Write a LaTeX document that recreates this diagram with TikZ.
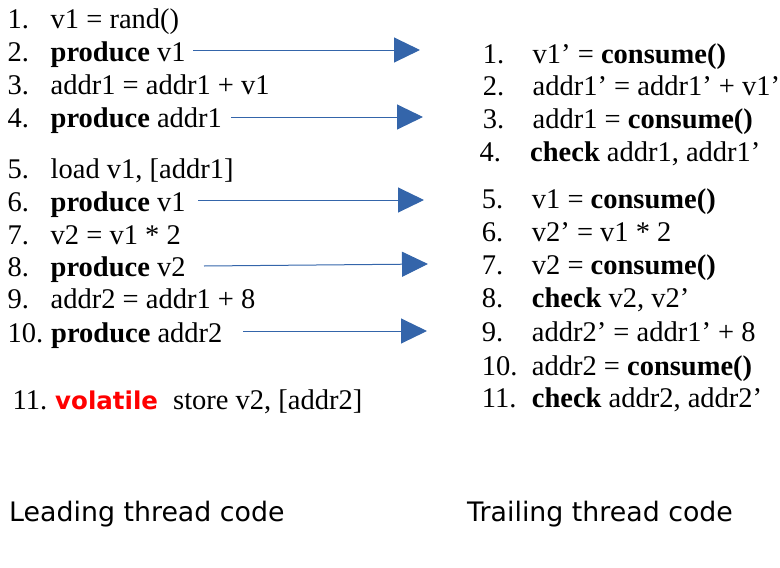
\documentclass[tikz,border=0pt]{standalone}
\usepackage{fontspec}
\setmainfont{Liberation Serif}
\newfontfamily\capfont{DejaVu Sans}
\usetikzlibrary{arrows.meta}
\definecolor{arrblue}{RGB}{52,101,170}
\definecolor{volred}{RGB}{255,0,0}
\tikzset{
  code/.style={anchor=base west, inner sep=0pt, font=\fontsize{28.5}{29}\selectfont},
  captext/.style={anchor=base west, inner sep=0pt, font=\capfont\fontsize{26.8}{27}\selectfont},
  voltext/.style={anchor=base west, inner sep=0pt, font=\capfont\bfseries\fontsize{24.5}{25}\selectfont, text=volred},
  flow/.style={draw=arrblue, line width=1pt, -{Triangle[length=26pt,width=25pt]}, arrblue}
}
\begin{document}
\begin{tikzpicture}[x=1pt,y=-1pt]
\useasboundingbox (0,0) rectangle (780,568);
% Leading thread
\node[code] (ln1) at (7.5,28.3) {1.};
\node[code] (l1) at (50.5,28.3) {v1 = rand()};
\node[code] (ln2) at (7.5,61.7) {2.};
\node[code] (l2) at (50.5,61.7) {\textbf{produce} v1};
\node[code] (ln3) at (7.5,94.5) {3.};
\node[code] (l3) at (50.5,94.5) {addr1 = addr1 + v1};
\node[code] (ln4) at (7.5,127.7) {4.};
\node[code] (l4) at (50.5,127.7) {\textbf{produce} addr1};
\node[code] (ln5) at (7.5,178) {5.};
\node[code] (l5) at (50.5,178) {load v1, [addr1]};
\node[code] (ln6) at (7.5,211.3) {6.};
\node[code] (l6) at (50.5,211.3) {\textbf{produce} v1};
\node[code] (ln7) at (7.5,244) {7.};
\node[code] (l7) at (50.5,244) {v2 = v1 * 2};
\node[code] (ln8) at (7.5,276.7) {8.};
\node[code] (l8) at (50.5,276.7) {\textbf{produce} v2};
\node[code] (ln9) at (7.5,308.7) {9.};
\node[code] (l9) at (50.5,308.7) {addr2 = addr1 + 8};
\node[code] (ln10) at (7.5,342.7) {10.};
\node[code] (l10) at (51,342.7) {\textbf{produce} addr2};
\node[code] (ln11) at (12.5,409.7) {11.};
\node[voltext] (l11v) at (55,409.7) {volatile};
\node[code] (l11) at (173,409.7) {store v2, [addr2]};
% Trailing thread
\node[code] (rn1) at (482.7,63.3) {1.};
\node[code] (r1) at (532.5,63.3) {v1’ = \textbf{consume()}};
\node[code] (rn2) at (482.7,95.5) {2.};
\node[code] (r2) at (532.5,95.5) {addr1’ = addr1’ + v1’};
\node[code] (rn3) at (482.7,128.3) {3.};
\node[code] (r3) at (532.5,128.3) {addr1 = \textbf{consume()}};
\node[code] (rn4) at (479.3,161.7) {4.};
\node[code] (r4) at (530,161.7) {\textbf{check} addr1, addr1’};
\node[code] (rn5) at (481.7,208.3) {5.};
\node[code] (r5) at (531.7,208.3) {v1 = \textbf{consume()}};
\node[code] (rn6) at (481.7,241.7) {6.};
\node[code] (r6) at (531.7,241.7) {v2’ = v1 * 2};
\node[code] (rn7) at (481.7,274) {7.};
\node[code] (r7) at (531.7,274) {v2 = \textbf{consume()}};
\node[code] (rn8) at (481.7,307) {8.};
\node[code] (r8) at (531.7,307) {\textbf{check} v2, v2’};
\node[code] (rn9) at (481.7,341) {9.};
\node[code] (r9) at (531.7,341) {addr2’ = addr1’ + 8};
\node[code] (rn10) at (481.7,375) {10.};
\node[code] (r10) at (531.7,375) {addr2 = \textbf{consume()}};
\node[code] (rn11) at (481.7,407.5) {11.};
\node[code] (r11) at (531.7,407.5) {\textbf{check} addr2, addr2’};
% Captions
\node[captext] (capL) at (9,521.7) {Leading thread code};
\node[captext] (capR) at (467,521.7) {Trailing thread code};
% Arrows
\coordinate (a1s) at (193,50);   \coordinate (a1e) at (420,50);
\coordinate (a2s) at (231,117);  \coordinate (a2e) at (423,117);
\coordinate (a3s) at (198,200);  \coordinate (a3e) at (424,200);
\coordinate (a4s) at (204,266);  \coordinate (a4e) at (428,264);
\coordinate (a5s) at (243,331);  \coordinate (a5e) at (427,331);
\draw[flow] (a1s) -- (a1e);
\draw[flow] (a2s) -- (a2e);
\draw[flow] (a3s) -- (a3e);
\draw[flow] (a4s) -- (a4e);
\draw[flow] (a5s) -- (a5e);
\end{tikzpicture}
\end{document}
